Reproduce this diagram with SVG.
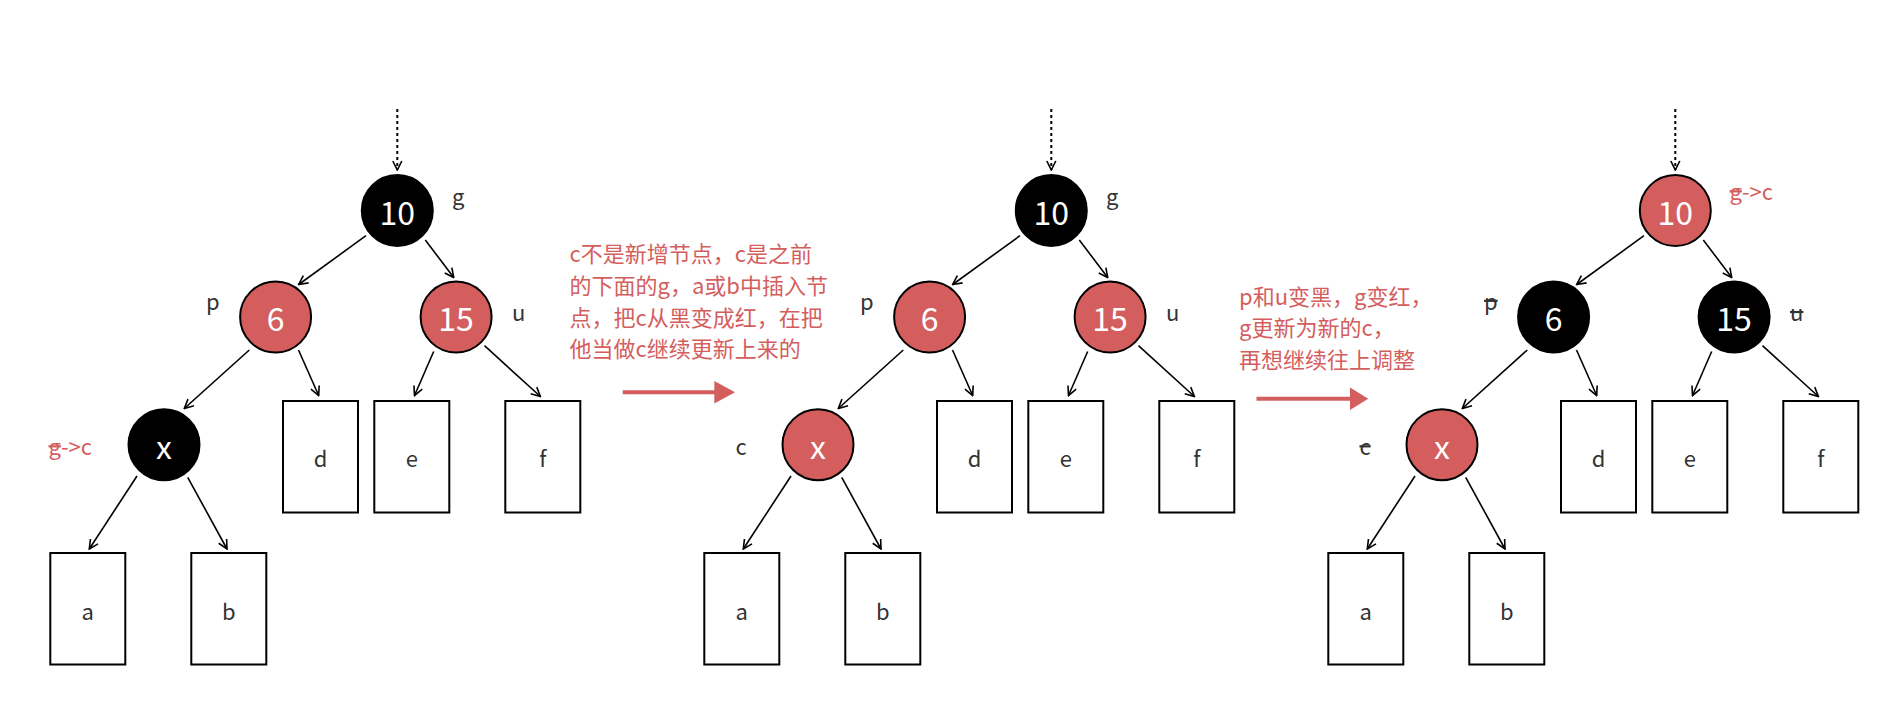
<svg xmlns="http://www.w3.org/2000/svg" width="1904" height="712" viewBox="0 0 1904 712">
<defs>
<style>
.bg{fill:#fff}
.nb{fill:#000;stroke:#000;stroke-width:2}
.nr{fill:#d45e5e;stroke:#000;stroke-width:2}
.leaf{fill:#fff;stroke:#000;stroke-width:2}
.num{font-family:"Noto Sans CJK SC","Liberation Sans",sans-serif;font-size:32px;fill:#fff;text-anchor:middle}
.lt{font-family:"Noto Sans CJK SC","Liberation Sans",sans-serif;font-size:22px;fill:#333;text-anchor:middle}
.lb{font-family:"Noto Sans CJK SC","Liberation Sans",sans-serif;font-size:22px;fill:#333}
.lr{font-family:"Noto Sans CJK SC","Liberation Sans",sans-serif;font-size:22px;fill:#d45e5e}
.st{text-decoration:line-through}
.cn{font-family:"Noto Sans CJK SC","Liberation Sans",sans-serif;font-size:22px;fill:#d45e5e}
.edge{fill:none;stroke:#000;stroke-width:1.6;marker-end:url(#ah)}
.dot{fill:none;stroke:#000;stroke-width:2;stroke-dasharray:3 3;marker-end:url(#ah)}
.rl{fill:none;stroke:#d45e5e;stroke-width:4}
.rh{fill:#d45e5e}
</style>
<marker id="ah" viewBox="0 0 12 12" refX="11" refY="6" markerWidth="12" markerHeight="12" markerUnits="userSpaceOnUse" orient="auto">
<path d="M2,1.5 L11,6 L2,10.5" fill="none" stroke="#000" stroke-width="1.6"/>
</marker>
<g id="tree-edges">
<path class="dot" d="M397.3,109 L397.3,170"/>
<path class="edge" d="M366,235.7 L298.7,284.5"/>
<path class="edge" d="M425.3,240 L453.7,277.5"/>
<path class="edge" d="M249.3,350 L184.3,408.5"/>
<path class="edge" d="M298.5,350 L318.7,395.5"/>
<path class="edge" d="M433.7,351.5 L414.5,395.5"/>
<path class="edge" d="M484.5,345.7 L540.4,396.5"/>
<path class="edge" d="M137,476 L89.3,549"/>
<path class="edge" d="M187.7,477.3 L227,549"/>
</g>
</defs>
<rect class="bg" x="0" y="0" width="1904" height="712"/>

<g id="connectors">
<use href="#tree-edges"/>
<use href="#tree-edges" transform="translate(654,0)"/>
<use href="#tree-edges" transform="translate(1278,0)"/>
</g>

<!-- Tree 1 -->
<g id="t1">
<g id="t1-g"><circle class="nb" cx="397.3" cy="210.5" r="35.5"/><text class="num" x="397.3" y="224.5">10</text></g>
<g id="t1-p"><circle class="nr" cx="275.6" cy="317" r="35.5"/><text class="num" x="275.6" y="330.5">6</text></g>
<g id="t1-u"><circle class="nr" cx="456.1" cy="317" r="35.5"/><text class="num" x="456.1" y="330.5">15</text></g>
<g id="t1-x"><circle class="nb" cx="164" cy="444.7" r="35.5"/><text class="num" x="164" y="458.7">x</text></g>
<g id="t1-a"><rect class="leaf" x="50.3" y="553" width="75" height="111.5"/><text class="lt" x="87.8" y="619.5">a</text></g>
<g id="t1-b"><rect class="leaf" x="191.3" y="553" width="75" height="111.5"/><text class="lt" x="228.8" y="619.5">b</text></g>
<g id="t1-d"><rect class="leaf" x="283" y="401" width="75" height="111.5"/><text class="lt" x="320.5" y="466.7">d</text></g>
<g id="t1-e"><rect class="leaf" x="374.3" y="401" width="75" height="111.5"/><text class="lt" x="411.8" y="466.7">e</text></g>
<g id="t1-f"><rect class="leaf" x="505.3" y="401" width="75" height="111.5"/><text class="lt" x="542.8" y="466.7">f</text></g>
<text class="lb" x="452" y="205">g</text>
<text class="lb" x="206" y="309.5">p</text>
<text class="lb" x="512" y="320.7">u</text>
<text class="lr" x="48.5" y="455"><tspan class="st">g</tspan>-&gt;c</text>
</g>

<!-- Tree 2 -->
<g id="t2">
<g id="t2-g"><circle class="nb" cx="1051.3" cy="210.5" r="35.5"/><text class="num" x="1051.3" y="224.5">10</text></g>
<g id="t2-p"><circle class="nr" cx="929.6" cy="317" r="35.5"/><text class="num" x="929.6" y="330.5">6</text></g>
<g id="t2-u"><circle class="nr" cx="1110.1" cy="317" r="35.5"/><text class="num" x="1110.1" y="330.5">15</text></g>
<g id="t2-x"><circle class="nr" cx="818" cy="444.7" r="35.5"/><text class="num" x="818" y="458.7">x</text></g>
<g id="t2-a"><rect class="leaf" x="704.3" y="553" width="75" height="111.5"/><text class="lt" x="741.8" y="619.5">a</text></g>
<g id="t2-b"><rect class="leaf" x="845.3" y="553" width="75" height="111.5"/><text class="lt" x="882.8" y="619.5">b</text></g>
<g id="t2-d"><rect class="leaf" x="937" y="401" width="75" height="111.5"/><text class="lt" x="974.5" y="466.7">d</text></g>
<g id="t2-e"><rect class="leaf" x="1028.3" y="401" width="75" height="111.5"/><text class="lt" x="1065.8" y="466.7">e</text></g>
<g id="t2-f"><rect class="leaf" x="1159.3" y="401" width="75" height="111.5"/><text class="lt" x="1196.8" y="466.7">f</text></g>
<text class="lb" x="1106" y="205">g</text>
<text class="lb" x="860" y="309.5">p</text>
<text class="lb" x="1166" y="320.7">u</text>
<text class="lb" x="735.5" y="455">c</text>
</g>

<!-- Tree 3 -->
<g id="t3">
<g id="t3-g"><circle class="nr" cx="1675.3" cy="210.5" r="35.5"/><text class="num" x="1675.3" y="224.5">10</text></g>
<g id="t3-p"><circle class="nb" cx="1553.6" cy="317" r="35.5"/><text class="num" x="1553.6" y="330.5">6</text></g>
<g id="t3-u"><circle class="nb" cx="1734.1" cy="317" r="35.5"/><text class="num" x="1734.1" y="330.5">15</text></g>
<g id="t3-x"><circle class="nr" cx="1442" cy="444.7" r="35.5"/><text class="num" x="1442" y="458.7">x</text></g>
<g id="t3-a"><rect class="leaf" x="1328.3" y="553" width="75" height="111.5"/><text class="lt" x="1365.8" y="619.5">a</text></g>
<g id="t3-b"><rect class="leaf" x="1469.3" y="553" width="75" height="111.5"/><text class="lt" x="1506.8" y="619.5">b</text></g>
<g id="t3-d"><rect class="leaf" x="1561" y="401" width="75" height="111.5"/><text class="lt" x="1598.5" y="466.7">d</text></g>
<g id="t3-e"><rect class="leaf" x="1652.3" y="401" width="75" height="111.5"/><text class="lt" x="1689.8" y="466.7">e</text></g>
<g id="t3-f"><rect class="leaf" x="1783.3" y="401" width="75" height="111.5"/><text class="lt" x="1820.8" y="466.7">f</text></g>
<text class="lr" x="1729.5" y="200"><tspan class="st">g</tspan>-&gt;c</text>
<text class="lb st" x="1484" y="309.5">p</text>
<text class="lb st" x="1790" y="320.7">u</text>
<text class="lb st" x="1359.5" y="455">c</text>
</g>

<!-- Notes and step arrows -->
<g id="note1">
<text class="cn" x="569.5" y="262.3">c不是新增节点，c是之前</text>
<text class="cn" x="569.5" y="294">的下面的g，a或b中插入节</text>
<text class="cn" x="569.5" y="325.6">点，把c从黑变成红，在把</text>
<text class="cn" x="569.5" y="357.3">他当做c继续更新上来的</text>
</g>
<g id="step1">
<path class="rl" d="M622.7,392.3 L716,392.3"/>
<polygon class="rh" points="714.3,381 735,392.3 714.3,403.6"/>
</g>
<g id="note2">
<text class="cn" x="1239" y="304.5">p和u变黑，g变红，</text>
<text class="cn" x="1239" y="336">g更新为新的c，</text>
<text class="cn" x="1239" y="367.5">再想继续往上调整</text>
</g>
<g id="step2">
<path class="rl" d="M1256.5,398.8 L1352,398.8"/>
<polygon class="rh" points="1350,387.6 1368.3,398.8 1350,410"/>
</g>
</svg>
